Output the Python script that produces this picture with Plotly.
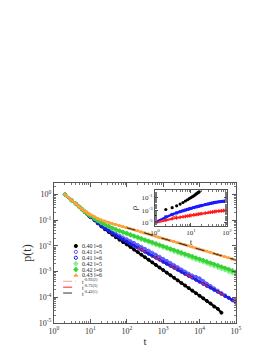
import numpy as np
import plotly.graph_objects as go

# ---------------- main panel data ----------------
t_main = [2, 3, 4, 5, 6, 7, 8, 9, 10, 13, 16, 20, 25, 32, 40, 50, 63, 79, 100,
          126, 158, 200, 251, 316, 398, 501, 631, 794, 1000,
          1259, 1585, 1995, 2512, 3162, 3981, 5012, 6310, 7943, 10000,
          12589, 15849, 19953, 25119, 31623, 39811, 50119, 63096, 79433, 100000]

log_p_040_l6 = [0, -.22, -.36, -.48, -.58, -.68, -.75, -.82, -.88,
                -1.00, -1.12, -1.24, -1.35, -1.46, -1.56, -1.66, -1.76, -1.85, -1.94,
                -2.04, -2.14, -2.24, -2.34, -2.44, -2.54, -2.64, -2.74, -2.84, -2.94,
                -3.04, -3.14, -3.24, -3.34, -3.44, -3.54, -3.64, -3.74, -3.84, -3.94,
                -4.04, -4.14, -4.24, -4.36, -4.45, -4.60]
log_p_041_l5 = [0, -.22, -.36, -.48, -.58, -.67, -.73, -.79, -.85,
                -.97, -1.08, -1.18, -1.28, -1.38, -1.46, -1.53, -1.60, -1.67, -1.74,
                -1.81, -1.88, -1.96, -2.03, -2.11, -2.18, -2.26, -2.34, -2.42, -2.50,
                -2.58, -2.66, -2.75, -2.83, -2.92, -3.00, -3.08, -3.15, -3.20, -3.26,
                -3.36, -3.47, -3.56, -3.65, -3.74, -3.83, -3.92, -4.02, -4.12, -4.22]
log_p_041_l6 = [0, -.22, -.36, -.48, -.58, -.67, -.74, -.80, -.87,
                -.99, -1.11, -1.22, -1.32, -1.42, -1.51, -1.60, -1.68, -1.76, -1.84,
                -1.92, -2.00, -2.07, -2.15, -2.23, -2.31, -2.39, -2.46, -2.54, -2.62,
                -2.70, -2.78, -2.85, -2.93, -3.01, -3.09, -3.17, -3.24, -3.32, -3.40,
                -3.48, -3.56, -3.63, -3.71, -3.79, -3.87, -3.95, -4.02, -4.10, -4.18]
log_p_042_l5 = [0, -.22, -.36, -.48, -.58, -.66, -.72, -.78, -.83,
                -.93, -1.02, -1.10, -1.18, -1.25, -1.32, -1.38, -1.44, -1.49, -1.54,
                -1.59, -1.64, -1.70, -1.75, -1.80, -1.85, -1.90, -1.96, -2.01, -2.06,
                -2.11, -2.16, -2.22, -2.27, -2.32, -2.37, -2.42, -2.48, -2.53, -2.58,
                -2.63, -2.68, -2.74, -2.79, -2.84, -2.89, -2.94, -3.00, -3.05, -3.10]
log_p_042_l6 = [0, -.22, -.36, -.48, -.58, -.66, -.72, -.78, -.83,
                -.93, -1.02, -1.10, -1.17, -1.24, -1.30, -1.36, -1.41, -1.46, -1.51,
                -1.56, -1.61, -1.66, -1.71, -1.76, -1.81, -1.86, -1.91, -1.96, -2.01,
                -2.06, -2.11, -2.16, -2.21, -2.26, -2.31, -2.36, -2.41, -2.46, -2.51,
                -2.56, -2.61, -2.66, -2.71, -2.76, -2.81, -2.86, -2.91, -2.96, -3.01]
log_p_043_l6 = [0, -.22, -.36, -.48, -.57, -.64, -.69, -.74, -.78,
                -.86, -.93, -.99, -1.04, -1.09, -1.13, -1.17, -1.21, -1.25, -1.29,
                -1.33, -1.37, -1.41, -1.46, -1.50, -1.54, -1.58, -1.62, -1.67, -1.71,
                -1.75, -1.79, -1.83, -1.88, -1.92, -1.96, -2.00, -2.04, -2.09, -2.13,
                -2.17, -2.21, -2.25, -2.30, -2.34, -2.38, -2.42, -2.46, -2.51, -2.55]

# power-law guide lines (end points)
fit1_t, fit1_logp = [200, 39811], [-2.24, -4.52]
fit2_t, fit2_logp = [200, 100000], [-2.07, -4.18]
fit3_t, fit3_logp = [100, 100000], [-1.29, -2.55]
fit_names = ["t<sup>-0.93(2)</sup>", "t<sup>-0.73(3)</sup>", "t<sup>-0.43(1)</sup>"]

# ---------------- inset data ----------------
rho_t_black = [1, 2, 3, 4, 5, 6, 7, 8, 9, 10, 11, 12, 13, 14, 15, 16, 17]
log_rho_black = [-3.9, -2.9, -2.6, -2.3, -2.0, -1.75, -1.5, -1.3, -1.1, -0.95,
                 -0.8, -0.65, -0.5, -0.35, -0.22, -0.1, 0.0]
rho_t = [1, 2, 3, 4, 5, 6, 7, 8, 9, 10, 12, 14, 16, 18, 20, 25, 30, 35, 40, 45,
         50, 60, 70, 80, 90, 100]
log_rho_blue = [-5.0, -4.1, -3.7, -3.45, -3.25, -3.1, -2.98, -2.88, -2.79, -2.71,
                -2.58, -2.47, -2.38, -2.30, -2.23, -2.09, -1.98, -1.89, -1.82, -1.76,
                -1.71, -1.64, -1.59, -1.55, -1.52, -1.50]
log_rho_red = [-5.1, -4.6, -4.4, -4.27, -4.17, -4.09, -4.02, -3.96, -3.91, -3.86,
               -3.78, -3.71, -3.65, -3.60, -3.56, -3.47, -3.40, -3.34, -3.29, -3.25,
               -3.21, -3.16, -3.12, -3.09, -3.07, -3.05]
inset_fit_t, inset_fit_logrho = [1, 4], [-5.2, -3.9]

# ---------------- styling ----------------
FONT = "Liberation Serif"
series = [
    ("0.40 l=6", log_p_040_l6, "#000000", "circle"),
    ("0.41 l=5", log_p_041_l5, "#5a5aff", "circle-open"),
    ("0.41 l=6", log_p_041_l6, "#1c1ce6", "circle-open"),
    ("0.42 l=5", log_p_042_l5, "#86f286", "cross"),
    ("0.42 l=6", log_p_042_l6, "#38d238", "cross"),
    ("0.43 l=6", log_p_043_l6, "#ffa03c", "triangle-up"),
]
fits = [
    (fit1_t, fit1_logp, fit_names[0], "#e6a6a6", "dashdot"),
    (fit2_t, fit2_logp, fit_names[1], "#ff2020", "dash"),
    (fit3_t, fit3_logp, fit_names[2], "#333333", "dash"),
]

fig = go.Figure()
# the first guide line lies underneath the black data band
ft, fl, nm, col, dash = fits[0]
fig.add_trace(go.Scatter(x=ft, y=10 ** np.array(fl), mode="lines", name=nm,
                         showlegend=False, line=dict(color=col, dash=dash, width=1.1)))

for name, lp, col, sym in series:
    tt = t_main[:len(lp)]
    pp = 10 ** np.array(lp)
    fig.add_trace(go.Scatter(x=tt, y=pp, mode="lines", line=dict(color=col, width=2.2),
                             showlegend=False, hoverinfo="skip"))
    fig.add_trace(go.Scatter(x=tt, y=pp, mode="markers", name=name, showlegend=False,
                             marker=dict(color=col, symbol=sym, size=3,
                                         line=dict(color=col, width=1))))

for ft, fl, nm, col, dash in fits[1:]:
    fig.add_trace(go.Scatter(x=ft, y=10 ** np.array(fl), mode="lines", name=nm,
                             showlegend=False,
                             line=dict(color=col, dash=dash, width=1.1)))

# inset traces
fig.add_trace(go.Scatter(x=rho_t_black, y=10 ** np.array(log_rho_black), mode="markers",
                         marker=dict(color="black", size=3.2), xaxis="x2", yaxis="y2",
                         showlegend=False))
fig.add_trace(go.Scatter(x=rho_t, y=10 ** np.array(log_rho_blue), mode="lines+markers",
                         line=dict(color="#1a1aff", width=2.5),
                         marker=dict(color="#1a1aff", symbol="square", size=3),
                         xaxis="x2", yaxis="y2", showlegend=False))
fig.add_trace(go.Scatter(x=rho_t, y=10 ** np.array(log_rho_red), mode="lines+markers",
                         line=dict(color="#ff1a1a", width=2),
                         marker=dict(color="#ff1a1a", symbol="cross", size=3),
                         xaxis="x2", yaxis="y2", showlegend=False))
fig.add_trace(go.Scatter(x=inset_fit_t, y=10 ** np.array(inset_fit_logrho), mode="lines",
                         line=dict(color="#ff4040", dash="dash", width=1),
                         xaxis="x2", yaxis="y2", showlegend=False))

# ---------------- hand-made compact legend ----------------
LEG_TOP, LEG_STEP = 0.55, 0.042
LEG_MX, LEG_TX = 0.12, 0.143
annotations = []
shapes = []
for i, (name, lp, col, sym) in enumerate(series):
    yy = LEG_TOP - i * LEG_STEP
    fig.add_trace(go.Scatter(x=[LEG_MX], y=[yy], mode="markers", xaxis="x3", yaxis="y3",
                             showlegend=False, hoverinfo="skip",
                             marker=dict(color=col, symbol=sym, size=3.2,
                                         line=dict(color=col, width=1))))
    annotations.append(dict(x=LEG_TX, y=yy, xref="paper", yref="paper", text=name,
                            showarrow=False, xanchor="left", yanchor="middle",
                            font=dict(family=FONT, size=6, color="#222")))
for j, (ft, fl, nm, col, dash) in enumerate(fits):
    yy = LEG_TOP - (len(series) + j) * LEG_STEP
    shapes.append(dict(type="line", xref="paper", yref="paper", x0=0.05, x1=0.12,
                       y0=yy, y1=yy, line=dict(color=col, dash=dash, width=1)))
    annotations.append(dict(x=LEG_TX, y=yy, xref="paper", yref="paper", text=nm,
                            showarrow=False, xanchor="left", yanchor="middle",
                            font=dict(family=FONT, size=6, color="#222")))

minor_vals = [m * 10 ** e for e in range(-6, 6) for m in range(2, 10)]

def logaxis(**kw):
    d = dict(type="log", showgrid=False, zeroline=False, showline=True,
             linecolor="#555", linewidth=1, mirror="allticks", ticks="inside",
             ticklen=4, tickcolor="#555",
             minor=dict(ticks="inside", ticklen=2, tickcolor="#777",
                        tickmode="array", tickvals=minor_vals),
             tickfont=dict(family=FONT, size=8, color="#333"))
    d.update(kw)
    return d

xt = [1, 10, 100, 1000, 10000, 100000]
yt = [1, 0.1, 0.01, 0.001, 0.0001, 0.00001]
fig.update_layout(
    width=274, height=354,
    margin=dict(l=46, r=46, t=175, b=39),
    paper_bgcolor="white", plot_bgcolor="rgba(0,0,0,0)",
    font=dict(family=FONT, color="#333"),
    showlegend=False,
    annotations=annotations, shapes=shapes,
    xaxis=logaxis(range=[0, 5], tickvals=xt,
                  ticktext=["10<sup>%d</sup>" % i for i in range(6)],
                  title=dict(text="t", font=dict(family=FONT, size=11), standoff=2)),
    yaxis=logaxis(range=[-5, 0.45], tickvals=yt,
                  ticktext=["10<sup>0</sup>"] + ["10<sup>-%d</sup>" % i for i in range(1, 6)],
                  title=dict(text="p(t)", font=dict(family=FONT, size=12), standoff=4)),
    xaxis2=logaxis(domain=[0.555, 0.95], anchor="y2", range=[0, 2],
                   tickvals=[1, 10, 100],
                   ticktext=["10<sup>0</sup>", "10<sup>1</sup>", "10<sup>2</sup>"],
                   tickfont=dict(family=FONT, size=7, color="#333"), ticklen=3,
                   title=dict(text="t", font=dict(family=FONT, size=9), standoff=0)),
    yaxis2=logaxis(domain=[0.693, 0.95], anchor="x2", range=[-5.6, 0.3],
                   tickvals=[0.1, 0.001, 0.00001],
                   ticktext=["10<sup>-1</sup>", "10<sup>-3</sup>", "10<sup>-5</sup>"],
                   tickfont=dict(family=FONT, size=7, color="#333"), ticklen=3,
                   title=dict(text="ρ", font=dict(family=FONT, size=9), standoff=2)),
    xaxis3=dict(range=[0, 1], visible=False, fixedrange=True, overlaying="x"),
    yaxis3=dict(range=[0, 1], visible=False, fixedrange=True, overlaying="y", anchor="x3"),
)

fig.write_html("out.html")
